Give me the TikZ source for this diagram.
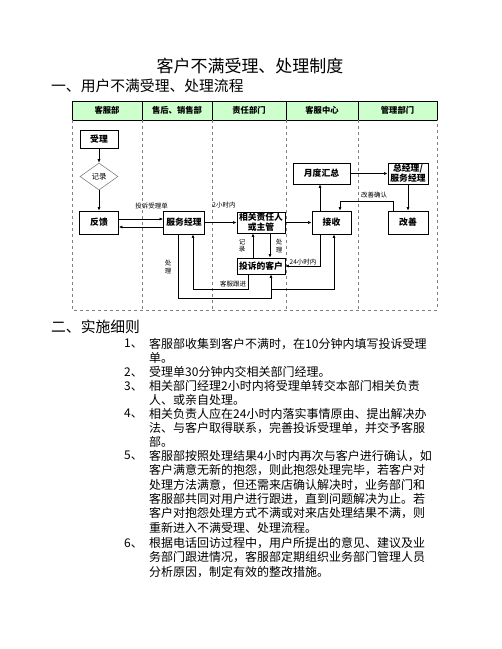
\documentclass[tikz,border=0pt]{standalone}
\usepackage{fontspec}
\setmainfont{Noto Sans CJK SC}
\usetikzlibrary{arrows.meta,shapes.geometric}
\definecolor{hdr}{RGB}{204,255,204}
\tikzset{
  box/.style={draw, line width=0.8pt, inner sep=0pt, align=center,
    font=\fontsize{8.8}{10}\selectfont\bfseries},
  hcell/.style={draw, line width=0.6pt, fill=hdr, inner sep=0pt, minimum height=19pt,
    font=\fontsize{8.3}{9}\selectfont\bfseries},
  lbl/.style={inner sep=0.5pt, font=\fontsize{6.5}{7.2}\selectfont, align=center},
  arr/.style={-{Latex[length=3.5pt,width=3pt]}, line width=0.6pt},
  lane/.style={dashed, gray, line width=0.5pt},
  para/.style={anchor=west, inner sep=0pt, font=\fontsize{12}{14}\selectfont},
}
\begin{document}
\begin{tikzpicture}[x=1pt,y=-1pt]
\useasboundingbox (0,0) rectangle (502,649);
% titles
\node[inner sep=0pt, font=\fontsize{17}{19}\selectfont] (title) at (250,66) {客户不满受理、处理制度};
\node[anchor=west, inner sep=0pt, font=\fontsize{14.8}{16}\selectfont] (s1) at (51,86) {一、用户不满受理、处理流程};
% header
\node[hcell, minimum width=70pt] (h1) at (107,110.5) {客服部};
\node[hcell, minimum width=70pt] (h2) at (177,110.5) {售后、销售部};
\node[hcell, minimum width=74pt] (h3) at (249,110.5) {责任部门};
\node[hcell, minimum width=72pt] (h4) at (322,110.5) {客服中心};
\node[hcell, minimum width=79pt] (h5) at (397.5,110.5) {管理部门};
% lanes
\draw[lane] (72,120) -- (72,310) -- (437,310) -- (437,120);
\foreach \xx in {142,212,286,358} \draw[lane] (\xx,120) -- (\xx,310);
% nodes
\node[box, minimum width=38pt, minimum height=18pt] (sl) at (99,139) {受理};
\node[diamond, draw=gray, line width=0.6pt, inner sep=0pt, minimum width=38pt, minimum height=27pt,
  font=\fontsize{7.5}{9}\selectfont] (jl) at (99,176.5) {记录};
\node[box, minimum width=39pt, minimum height=23pt] (fk) at (99,222.5) {反馈};
\node[box, minimum width=41pt, minimum height=23pt] (fw) at (184,222.5) {服务经理};
\node[box, minimum width=48pt, minimum height=21pt] (xg) at (261,222.5) {相关责任人\\或主管};
\node[box, minimum width=48pt, minimum height=16pt] (ts) at (261,266) {投诉的客户};
\node[box, minimum width=39pt, minimum height=23pt] (js) at (331.5,222.5) {接收};
\node[box, minimum width=57pt, minimum height=21pt] (yd) at (321.5,173.5) {月度汇总};
\node[box, minimum width=40pt, minimum height=21pt] (zj) at (408,173.5) {总经理/\\服务经理};
\node[box, minimum width=40pt, minimum height=23pt] (gs) at (408,222.5) {改善};
% connectors
\draw[arr] (sl) -- (jl);
\draw[arr] (jl) -- (fk);
\draw[arr] (fk.east |- 0,219) -- (fw.west |- 0,219);
\draw[arr] (fw.west |- 0,227) -- (fk.east |- 0,227);
\node[lbl] (l1) at (151.5,206) {投诉受理单};
\draw[arr] (fw) -- (xg);
\node[lbl] (l2) at (224,205) {2小时内};
\draw[arr] (xg) -- (js);
\draw[arr] (js.north -| 320,0) -- (yd.south -| 320,0);
\draw[arr] (yd) -- (zj);
\draw[arr] (zj) -- (gs);
\draw[arr] (gs.north -| 393,0) |- (340,201) -- (js.north -| 340,0);
\node[lbl] (l3) at (374,195) {改善确认};
\draw[arr] (ts.north -| 253,0) -- (xg.south -| 253,0);
\node[lbl] (l4) at (242,246) {记\\录};
\draw[arr] (xg.south -| 270,0) -- (ts.north -| 270,0);
\node[lbl] (l5) at (279,246) {处\\理};
\draw[arr] (js.south -| 320,0) |- (ts.east);
\node[lbl] (l6) at (303,262) {24小时内};
\draw[arr] (ts.south -| 248,0) |- (193,289) -- (fw.south -| 193,0);
\node[lbl] (l7) at (233,284) {客服跟进};
\draw[arr] (fw.south -| 178,0) |- (271,298) -- (ts.south -| 271,0);
\coordinate (br) at (271,289);
\draw[arr] (br) -| (js.south -| 334,0);
\node[lbl] (l8) at (168,267) {处\\理};
% section 2
\node[anchor=west, inner sep=0pt, font=\fontsize{14.8}{16}\selectfont] (s2) at (51,327) {二、实施细则};
\foreach \nn/\yy in {1、/344, 2、/372, 3、/386, 4、/414, 5、/456, 6、/543}
  \node[para] at (124,\yy) {\nn};
\node[para] (t1a) at (149,344) {客服部收集到客户不满时，在10分钟内填写投诉受理};
\node[para] (t1b) at (149,358) {单。};
\node[para] (t2a) at (149,372) {受理单30分钟内交相关部门经理。};
\node[para] (t3a) at (149,386) {相关部门经理2小时内将受理单转交本部门相关负责};
\node[para] (t3b) at (149,400) {人、或亲自处理。};
\node[para] (t4a) at (149,414) {相关负责人应在24小时内落实事情原由、提出解决办};
\node[para] (t4b) at (149,428) {法、与客户取得联系，完善投诉受理单，并交予客服};
\node[para] (t4c) at (149,442) {部。};
\node[para] (t5a) at (149,456) {客服部按照处理结果4小时内再次与客户进行确认，如};
\node[para] (t5b) at (149,470.5) {客户满意无新的抱怨，则此抱怨处理完毕，若客户对};
\node[para] (t5c) at (149,485) {处理方法满意，但还需来店确认解决时，业务部门和};
\node[para] (t5d) at (149,499) {客服部共同对用户进行跟进，直到问题解决为止。若};
\node[para] (t5e) at (149,513.5) {客户对抱怨处理方式不满或对来店处理结果不满，则};
\node[para] (t5f) at (149,528) {重新进入不满受理、处理流程。};
\node[para] (t6a) at (149,543) {根据电话回访过程中，用户所提出的意见、建议及业};
\node[para] (t6b) at (149,557) {务部门跟进情况，客服部定期组织业务部门管理人员};
\node[para] (t6c) at (149,572) {分析原因，制定有效的整改措施。};
\end{tikzpicture}
\end{document}
